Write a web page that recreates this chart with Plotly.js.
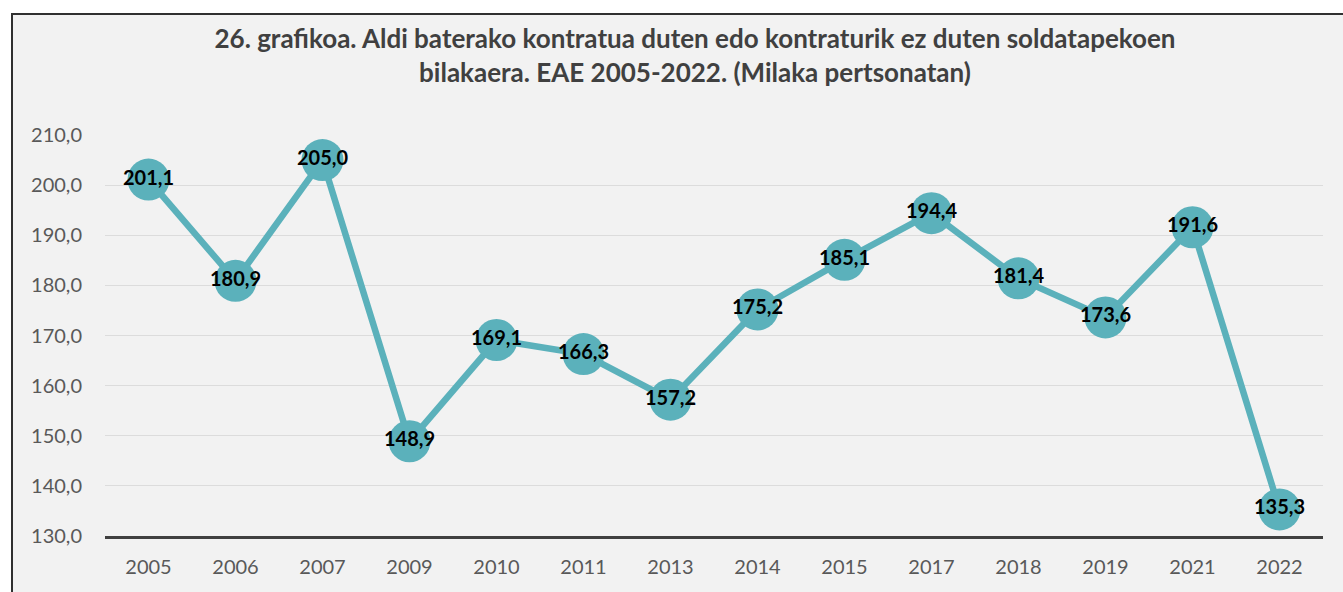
<!DOCTYPE html>
<html><head><meta charset="utf-8">
<script src="https://cdn.plot.ly/plotly-3.0.1.min.js"></script>
<style>
html,body{margin:0;padding:0;background:#fff;overflow:hidden;width:1343px;height:592px;}
#frame{position:absolute;left:11px;top:13px;border:2px solid #303030;background:#f2f2f2;width:1364px;height:600px;}
#chart{width:1364px;height:600px;}
</style></head>
<body>
<div id="frame"><div id="chart"></div></div>
<script>
const years = ['2005','2006','2007','2009','2010','2011','2013','2014','2015','2017','2018','2019','2021','2022'];
const values = [201.1,180.9,205.0,148.9,169.1,166.3,157.2,175.2,185.1,194.4,181.4,173.6,191.6,135.3];
const titleText = '26. grafikoa. Aldi baterako kontratua duten edo kontraturik ez duten soldatapekoen<br>bilakaera. EAE 2005-2022. (Milaka pertsonatan)';
const labels = values.map(v => v.toFixed(1).replace('.', ','));

const trace = {
  x: years, y: values, type: 'scatter', mode: 'lines+markers+text',
  line: {color: '#5bb1bb', width: 6.5},
  marker: {color: '#5bb1bb', size: 42},
  text: labels, textposition: 'middle center',
  textfont: {family: 'Lato, sans-serif', size: 20, color: '#000', weight: 'bold'},
  cliponaxis: false, hoverinfo: 'skip'
};
const layout = {
  width: 1364, height: 600,
  paper_bgcolor: '#f2f2f2', plot_bgcolor: '#f2f2f2',
  separators: ',.',
  margin: {l: 91.5, r: 53.5, t: 120, b: 79},
  font: {family: 'Lato, sans-serif', color: '#595959', size: 20},
  title: {text: titleText, x: 0.5, xanchor: 'center', xref: 'container', yref: 'container',
    y: 1 - 33/600, yanchor: 'middle',
    font: {family: 'Lato, sans-serif', size: 26, color: '#404040', weight: 'bold'}},
  showlegend: false,
  xaxis: {type: 'category', range: [-0.5, 13.5], showgrid: false, showline: true, linecolor: '#404040', linewidth: 3,
    ticks: '', tickfont: {size: 20, color: '#595959'}, ticklabelstandoff: 11, fixedrange: true},
  yaxis: {range: [130, 210], dtick: 10, tickformat: '.1f', showgrid: true, gridcolor: '#dcdcdc',
    gridwidth: 1, zeroline: false, showline: false, ticks: '', ticklabelstandoff: 22,
    tickfont: {size: 20, color: '#595959'}, fixedrange: true}
};
Plotly.newPlot('chart', [trace], layout, {displayModeBar: false, staticPlot: true});
</script>
</body></html>
